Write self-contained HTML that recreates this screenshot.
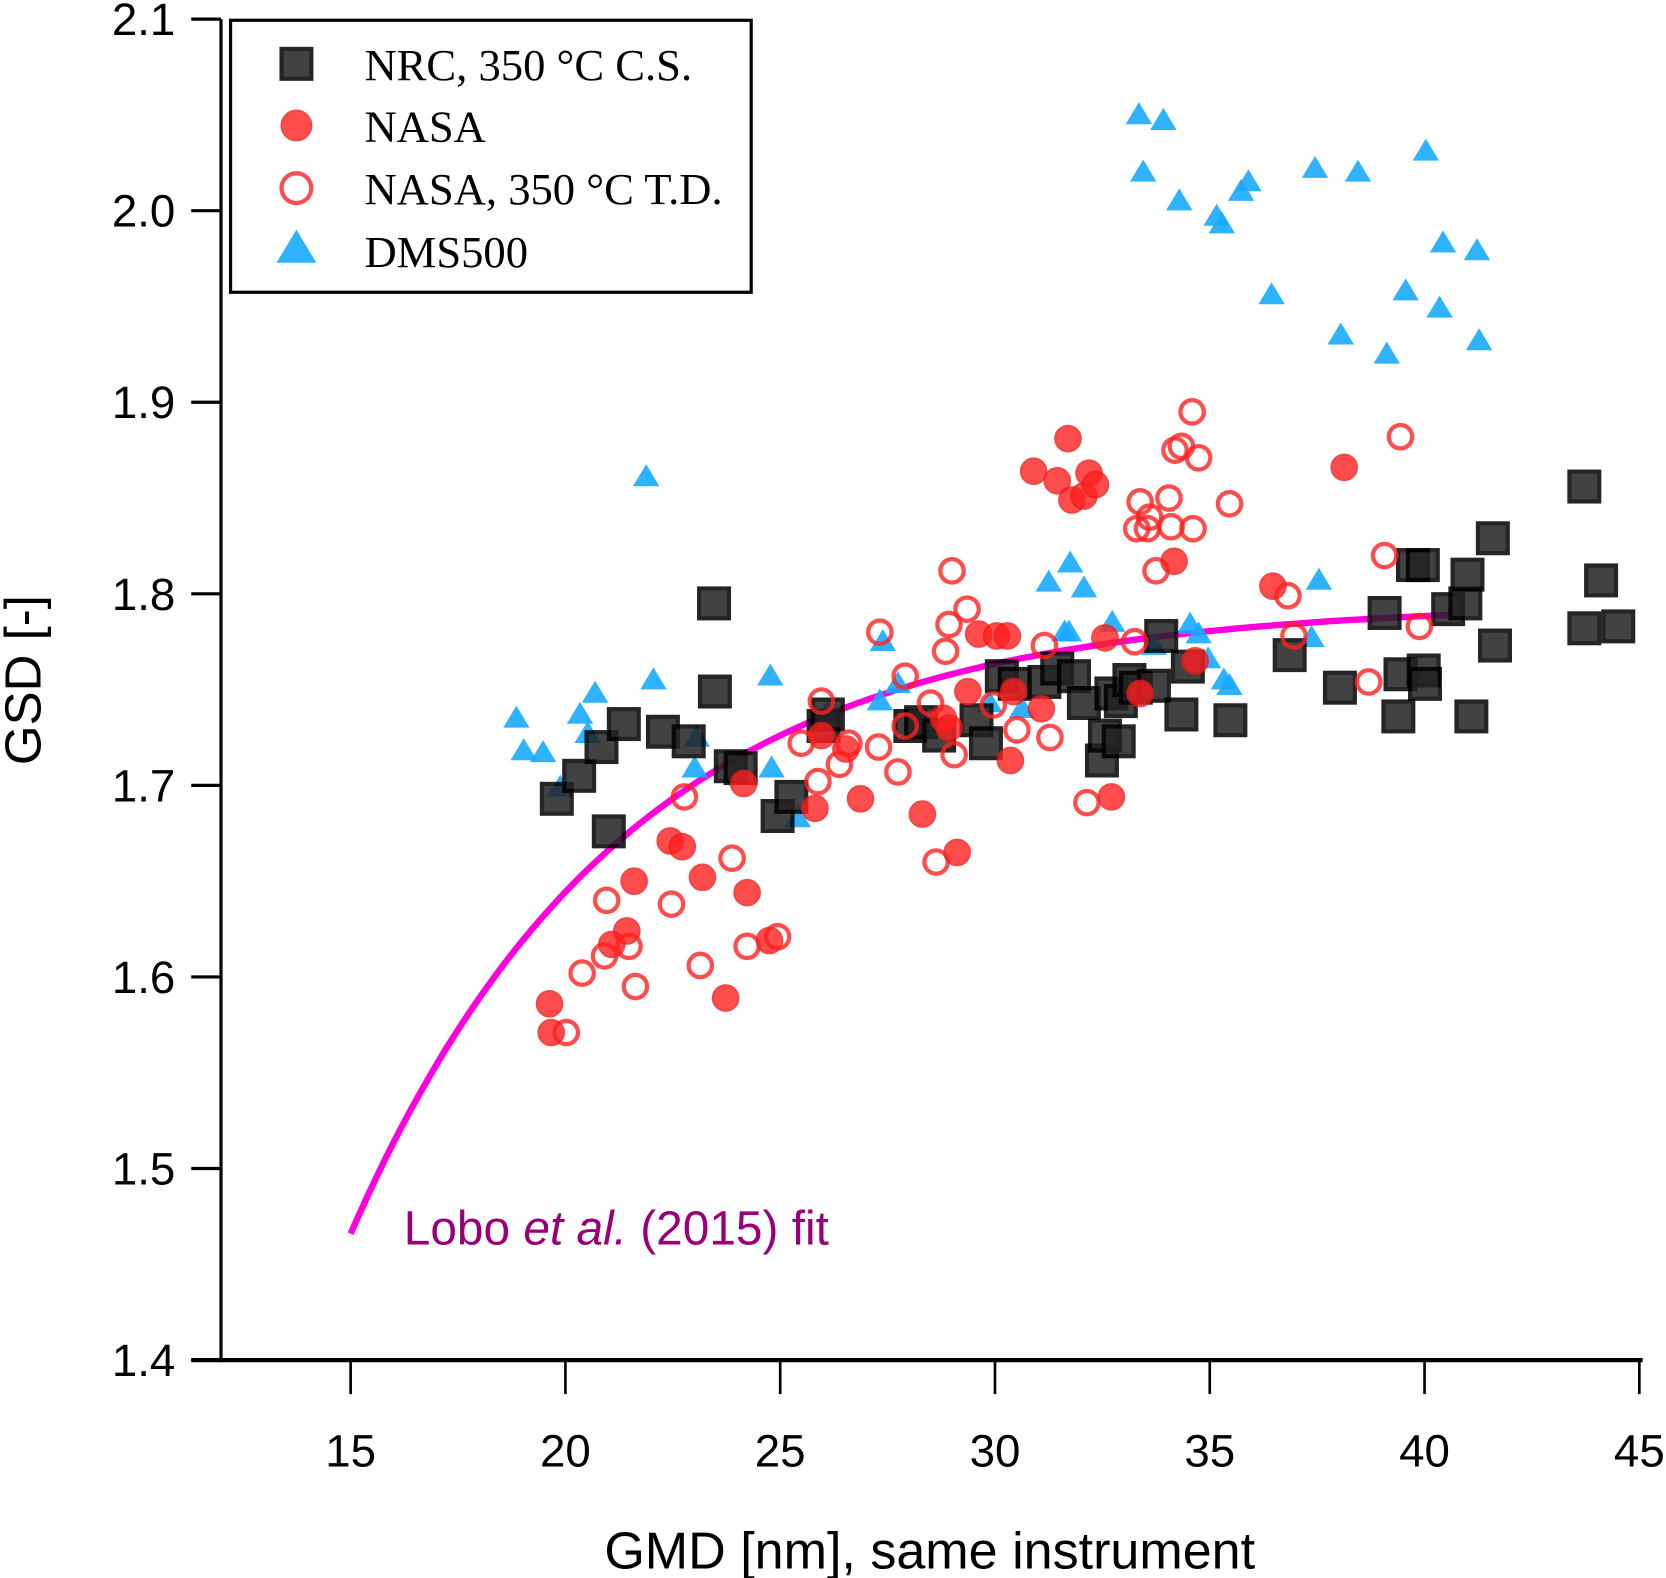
<!DOCTYPE html>
<html><head><meta charset="utf-8"><style>
html,body{margin:0;padding:0;background:#fff}
svg{display:block}
text{font-family:"Liberation Sans","DejaVu Sans",sans-serif}
</style></head><body>
<svg id="chart" width="1666" height="1578" viewBox="0 0 1568 1485" xmlns="http://www.w3.org/2000/svg">
<g id="axes"></g>
<g id="marks"></g>
<g id="legend"></g>
</svg>
<script>
const xTicks=[15,20,25,30,35,40,45];
const yTicks=[1.4,1.5,1.6,1.7,1.8,1.9,2.0,2.1];
const yTickLabels=["1.4","1.5","1.6","1.7","1.8","1.9","2.0","2.1"];
const nrcX=[19.80,20.32,20.84,21.01,21.36,22.27,22.87,23.46,23.48,23.85,24.08,24.94,25.26,26.01,26.11,28.03,28.28,28.70,29.57,29.79,30.16,30.46,31.15,31.45,31.84,32.07,32.49,32.56,32.71,32.88,32.93,33.13,33.28,33.70,33.87,34.34,34.49,35.48,36.86,38.03,39.07,39.39,39.44,39.73,39.96,39.98,40.01,40.55,40.95,41.00,41.09,41.59,41.64,43.72,43.72,44.11,44.51];
const nrcY=[1.693,1.705,1.720,1.676,1.732,1.728,1.723,1.795,1.749,1.710,1.709,1.684,1.694,1.731,1.737,1.731,1.733,1.726,1.734,1.722,1.757,1.753,1.754,1.761,1.757,1.743,1.713,1.726,1.748,1.723,1.744,1.755,1.751,1.752,1.778,1.737,1.762,1.734,1.768,1.751,1.790,1.736,1.758,1.815,1.815,1.760,1.753,1.792,1.795,1.810,1.736,1.829,1.773,1.856,1.782,1.807,1.783];
const nasaX=[19.63,19.67,21.08,21.43,21.60,22.44,22.72,23.19,23.73,24.15,24.23,24.75,25.81,25.96,26.53,26.87,28.31,28.80,28.93,29.12,29.37,29.62,30.04,30.29,30.36,30.43,31.08,30.90,31.45,31.70,31.79,32.07,32.19,32.34,32.56,32.71,33.38,34.17,34.66,36.47,38.13];
const nasaY=[1.586,1.571,1.617,1.624,1.650,1.671,1.668,1.652,1.589,1.701,1.644,1.619,1.688,1.726,1.719,1.693,1.685,1.735,1.730,1.665,1.749,1.779,1.778,1.778,1.713,1.749,1.740,1.864,1.859,1.881,1.849,1.851,1.863,1.857,1.777,1.694,1.748,1.817,1.765,1.804,1.866];
const tdX=[20.02,20.39,20.91,20.96,21.48,21.63,22.47,22.77,23.14,23.88,24.23,24.94,25.49,25.88,25.96,26.38,26.60,27.29,27.32,27.74,27.91,27.91,28.50,28.63,28.85,28.93,29.00,29.05,29.35,29.96,30.51,31.15,31.28,32.14,33.25,33.30,33.38,33.55,33.60,33.75,34.05,34.10,34.19,34.34,34.59,34.61,34.74,35.46,36.82,36.96,38.70,39.07,39.44,39.88];
const tdY=[1.571,1.602,1.611,1.640,1.616,1.595,1.638,1.694,1.606,1.662,1.616,1.621,1.722,1.702,1.744,1.711,1.722,1.720,1.780,1.707,1.757,1.731,1.743,1.660,1.770,1.784,1.812,1.716,1.792,1.742,1.729,1.773,1.725,1.691,1.775,1.834,1.848,1.834,1.840,1.812,1.850,1.835,1.875,1.877,1.895,1.834,1.871,1.847,1.799,1.778,1.754,1.820,1.882,1.783];
const dmsX=[18.86,19.03,19.48,19.88,20.34,20.69,20.52,21.88,22.05,23.06,23.01,24.77,24.80,25.41,26.11,27.39,27.32,27.74,29.87,30.63,31.25,31.75,32.07,31.62,31.72,32.73,33.35,33.92,33.45,34.29,35.16,35.28,35.73,35.90,36.44,37.45,38.45,38.05,39.12,39.56,40.03,40.43,40.35,41.22,41.27,34.54,34.74,34.96,35.33,35.46,37.54,37.37,33.70];
const dmsY=[1.735,1.718,1.717,1.699,1.737,1.748,1.727,1.861,1.755,1.725,1.709,1.757,1.709,1.683,1.738,1.775,1.744,1.753,1.743,1.740,1.806,1.816,1.803,1.780,1.780,1.785,2.050,2.047,2.020,2.005,1.997,1.993,2.010,2.015,1.956,2.022,2.020,1.935,1.925,1.958,2.031,1.983,1.949,1.979,1.932,1.784,1.779,1.766,1.755,1.752,1.807,1.777,1.773];
const fitA=1.795, fitB=0.329, fitC=6.4, fitStart=15, fitEnd=40.6;

const NS="http://www.w3.org/2000/svg";
const X=v=>330+(v-15)*40.43;
const Y=v=>1280-(v-1.4)*1803;
function mk(tag,parent,attrs){const e=document.createElementNS(NS,tag);for(const k in attrs)e.setAttribute(k,attrs[k]);parent.appendChild(e);return e;}
const axes=document.getElementById('axes'), marks=document.getElementById('marks'), leg=document.getElementById('legend');

let e;
e=mk('line',axes,{x1:208,y1:18,x2:208,y2:1282,stroke:'#000','stroke-width':3});


e=mk('line',axes,{x1:180,y1:1280,x2:1546,y2:1280,stroke:'#000','stroke-width':4});


yTicks.forEach((t,i)=>{
  e=mk('line',axes,{x1:180,y1:Y(t),x2:208,y2:Y(t),stroke:'#000','stroke-width':3});
  
  
  e=mk('text',axes,{x:165,y:Y(t)+15,'text-anchor':'end','font-size':43});
  e.textContent=yTickLabels[i];
  
  
});
xTicks.forEach(t=>{
  e=mk('line',axes,{x1:X(t),y1:1280,x2:X(t),y2:1312,stroke:'#000','stroke-width':2.5});
  
  
  e=mk('text',axes,{x:X(t),y:1380,'text-anchor':'middle','font-size':43});
  e.textContent=String(t);
  
  
});
e=mk('text',axes,{x:875,y:1476,'text-anchor':'middle','font-size':49});
e.textContent='GMD [nm], same instrument';


e=mk('text',axes,{x:0,y:0,'text-anchor':'middle','font-size':48,transform:'translate(38,640) rotate(-90)'});
e.textContent='GSD [-]';



// fit
let d='';
for(let v=fitStart;v<=fitEnd+1e-9;v+=0.2){const y=fitA-fitB*Math.exp(-(v-fitStart)/fitC);d+=(d?'L':'M')+X(v).toFixed(1)+','+Y(y).toFixed(1);}
e=mk('path',marks,{d:d,fill:'none',stroke:'#ff00dd','stroke-width':6});



function square(g,cx,cy){return mk('rect',g,{x:cx-14,y:cy-14,width:28,height:28,fill:'#222',stroke:'#000','stroke-width':4,opacity:0.85});}
function dot(g,cx,cy){return mk('circle',g,{cx:cx,cy:cy,r:12,fill:'#ff2020',stroke:'#ee1a1a','stroke-width':2,opacity:0.8});}
function ring(g,cx,cy){return mk('circle',g,{cx:cx,cy:cy,r:11,fill:'none',stroke:'#ff2020','stroke-width':4,opacity:0.8});}
function tri(g,cx,cy,s){return mk('path',g,{d:`M${cx},${cy-s}L${cx+s*1.05},${cy+s*0.75}L${cx-s*1.05},${cy+s*0.75}Z`,fill:'#19aaff',stroke:'#19aaff','stroke-width':1,opacity:0.9});}

dmsX.forEach((v,i)=>{e=tri(marks,X(v),Y(dmsY[i]),11);});
nrcX.forEach((v,i)=>{e=square(marks,X(v),Y(nrcY[i]));});
nasaX.forEach((v,i)=>{e=dot(marks,X(v),Y(nasaY[i]));});
tdX.forEach((v,i)=>{e=ring(marks,X(v),Y(tdY[i]));});

e=mk('text',marks,{x:380,y:1171,'font-size':45,fill:'#990077'});
e.innerHTML='Lobo <tspan font-style="italic">et al.</tspan> (2015) fit';



// legend
e=mk('rect',leg,{x:217,y:19,width:490,height:256,fill:'#fff',stroke:'#000','stroke-width':3});


const legNames=['NRC, 350 °C C.S.','NASA','NASA, 350 °C T.D.','DMS500'];
const legY=[60,118,177,236];
e=square(leg,279,60);  
e=dot(leg,279,118); e.setAttribute('r',14);  
e=ring(leg,279,177); e.setAttribute('r',14);  
e=tri(leg,279,234,17);  
legNames.forEach((n,i)=>{
  e=mk('text',leg,{x:343,y:legY[i]+15,'font-size':42,style:'font-family:"Liberation Serif",serif'});
  e.textContent=n;
  
  
});
</script>
</body></html>
